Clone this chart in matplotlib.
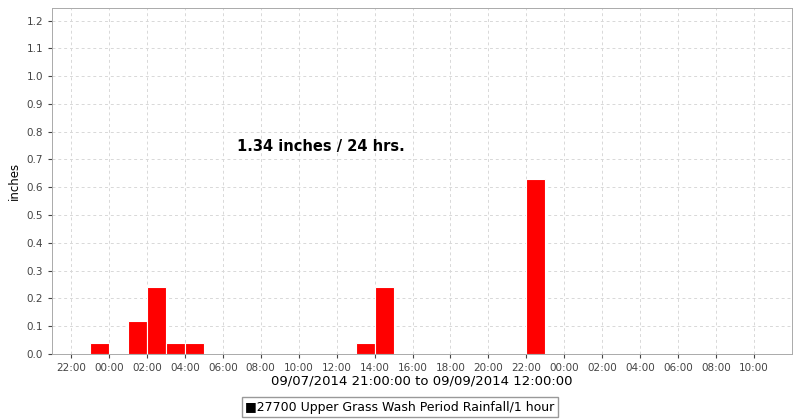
import numpy as np
import matplotlib
matplotlib.use('Agg')
import matplotlib.pyplot as plt
import matplotlib.dates as mdates
from datetime import datetime, timedelta

# hourly rainfall (bar start hour, inches)
bar_starts = ['2014-09-07 23:00', '2014-09-08 01:00', '2014-09-08 02:00', '2014-09-08 03:00',
              '2014-09-08 04:00', '2014-09-08 13:00', '2014-09-08 14:00', '2014-09-08 22:00']
rain = [0.04, 0.12, 0.24, 0.04, 0.04, 0.04, 0.24, 0.63]
series_name = '27700 Upper Grass Wash Period Rainfall/1 hour'
total_text = '1.34 inches / 24 hrs.'

t0 = datetime(2014, 9, 7, 21, 0)
t1 = datetime(2014, 9, 9, 12, 0)
starts = [datetime.strptime(s, '%Y-%m-%d %H:%M') for s in bar_starts]

fig = plt.figure(figsize=(8, 4.2), dpi=100)
ax = fig.add_axes([52/800, 66/420, 740/800, 346/420])
ax.bar(mdates.date2num(starts), rain, width=1/24, align='edge',
       color='#ff0000', edgecolor='white', linewidth=0.8, zorder=3)

ax.set_xlim(t0, t1)
ax.set_ylim(0, 1.245)
ax.set_yticks(np.arange(0, 1.21, 0.1))
ax.yaxis.set_major_formatter(plt.FuncFormatter(lambda v, p: '%.1f' % v))
xt = [datetime(2014, 9, 7, 22) + timedelta(hours=2 * i) for i in range(19)]
ax.set_xticks(mdates.date2num(xt))
ax.xaxis.set_major_formatter(mdates.DateFormatter('%H:%M'))
ax.tick_params(labelsize=7.5, length=3, colors='#444444')
ax.grid(True, color='#d8d8d8', linestyle=(0, (3, 3)), linewidth=0.7, zorder=0)
for s in ax.spines.values():
    s.set_color('#aaaaaa')
    s.set_linewidth(0.7)

ax.set_ylabel('inches', fontsize=8.5)
ax.set_xlabel('09/07/2014 21:00:00 to 09/09/2014 12:00:00', fontsize=9.5, labelpad=1)
ax.text(datetime(2014, 9, 8, 6, 45), 0.745, total_text, fontsize=10.5,
        fontweight='bold', va='center')

fig.text(0.5, 13/420, '\u25A0' + series_name, ha='center', va='center', fontsize=9,
         bbox=dict(facecolor='white', edgecolor='#999999', boxstyle='square,pad=0.3'))

fig.savefig('out.png', dpi=100, facecolor='white')
